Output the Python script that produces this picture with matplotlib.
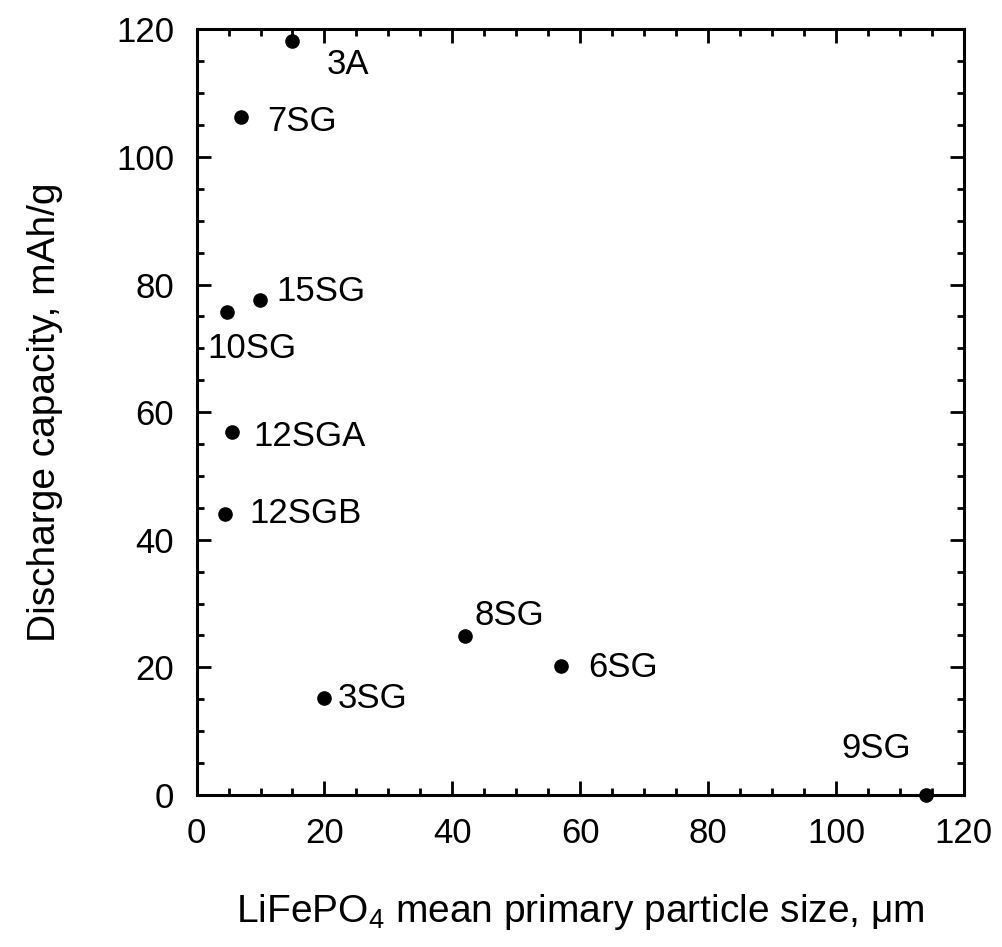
import matplotlib
matplotlib.use("Agg")
import matplotlib.pyplot as plt
from matplotlib.ticker import MultipleLocator

# sample names, particle size (um) and discharge capacity (mAh/g)
samples = ["3A", "7SG", "15SG", "10SG", "12SGA", "12SGB", "8SG", "6SG", "3SG", "9SG"]
size_um = [15.0, 7.0, 9.9, 4.7, 5.5, 4.5, 42.0, 57.0, 20.0, 114.0]
capacity = [118.2, 106.2, 77.6, 75.7, 56.9, 44.0, 24.9, 20.2, 15.2, 0.0]

# label offsets from each dot, in pixels (left edge of text, vertical centre)
label_offsets = [(34, -24), (26, -4), (16, 8), (-19, -36), (22, -5),
                 (24, 1), (9, 21), (27, -1), (13, 0), (-84, 47)]


def main():
    plt.rcParams["font.family"] = ["Liberation Sans", "DejaVu Sans"]
    plt.rcParams["mathtext.fontset"] = "custom"
    plt.rcParams["mathtext.rm"] = "Liberation Sans"
    plt.rcParams["mathtext.it"] = "Liberation Sans"

    fig = plt.figure(figsize=(10.03, 9.47), dpi=100)
    ax = fig.add_axes([0.196, 0.1605, 0.765, 0.8085])

    ax.plot(size_um, capacity, "o", color="black", markersize=9.5, clip_on=False, zorder=3)

    for name, x, y, (dx, dy) in zip(samples, size_um, capacity, label_offsets):
        ax.annotate(name, (x, y), xytext=(dx, dy), textcoords="offset pixels",
                    ha="left", va="center", fontsize=25)

    ax.set_xlim(0, 120)
    ax.set_ylim(0, 120)
    ax.xaxis.set_major_locator(MultipleLocator(20))
    ax.xaxis.set_minor_locator(MultipleLocator(5))
    ax.yaxis.set_major_locator(MultipleLocator(20))
    ax.yaxis.set_minor_locator(MultipleLocator(5))

    ax.tick_params(which="both", direction="in", top=True, right=True, width=2)
    ax.tick_params(which="major", length=10, labelsize=25, pad=16)
    ax.tick_params(which="minor", length=5)
    for side in ax.spines.values():
        side.set_linewidth(2.2)

    ax.set_xlabel("LiFePO$_4$ mean primary particle size, μm", fontsize=28, labelpad=30)
    ax.set_ylabel("Discharge capacity, mAh/g", fontsize=28, labelpad=38)

    fig.savefig("out.png", dpi=100)


if __name__ == "__main__":
    main()
